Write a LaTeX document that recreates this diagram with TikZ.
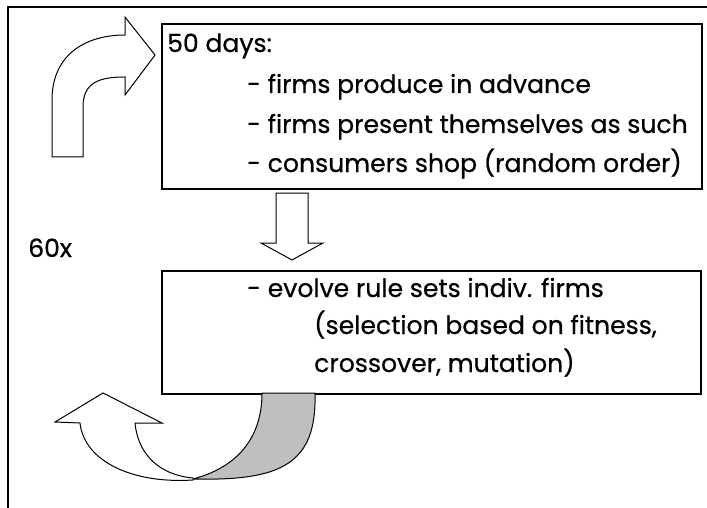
\documentclass[tikz,border=0pt]{standalone}
\usepackage{fontspec}
\setmainfont{Poppins}[FakeBold=0.6]
\begin{document}
\begin{tikzpicture}[x=1pt,y=-1pt,
  frame/.style={line width=2pt},
  boxst/.style={draw,line width=1.8pt,inner sep=0pt,anchor=north west},
  txt/.style={anchor=base west,inner sep=0pt,font=\fontsize{25.1}{30}\selectfont},
  blk/.style={draw,line width=1pt,fill=white,line join=miter},
  shade/.style={draw,line width=1pt,fill=gray!50}]
\useasboundingbox (0,0) rectangle (707,508);
\draw[frame] (8,508) -- (8,7) -- (707,7);
\node[boxst,minimum width=540pt,minimum height=165pt] (top) at (161,23) {};
\node[boxst,minimum width=539pt,minimum height=123pt] (bot) at (161,270) {};
\node[txt] (t0) at (167,52) {50 days:};
\node[txt] (t1) at (247,93) {- firms produce in advance};
\node[txt] (t2) at (247,133) {- firms present themselves as such};
\node[txt] (t3) at (247,172) {- consumers shop (random order)};
\node[txt] (b1) at (247,297) {- evolve rule sets indiv. firms};
\node[txt] (b2) at (314,334) {(selection based on fitness,};
\node[txt] (b3) at (314,372) {crossover, mutation)};
\node[txt] (n60) at (28,257) {60x};
% top-left curved arrow
\draw[blk] (52,157) -- (52,100) .. controls (52,55) and (85,35) .. (125,35) -- (125,17) -- (155,55) -- (125,95) -- (125,77) .. controls (100,77) and (83,82) .. (83,107) -- (83,157) -- cycle;
% down arrow
\draw[blk] (276,193) -- (276,243) -- (261,243) -- (292,260) -- (323,243) -- (308,243) -- (308,193) -- cycle;
% bottom curved arrow
\draw[shade] (315,393) .. controls (317,465) and (280,481) .. (193,479) .. controls (235,468) and (262,440) .. (262,393) -- cycle;
\draw[blk] (103,393) -- (162,423) -- (135,423) .. controls (138,455) and (160,475) .. (193,478) -- (193,480) .. controls (130,484) and (84,460) .. (80,423) -- (55,422) -- cycle;
\end{tikzpicture}
\end{document}
